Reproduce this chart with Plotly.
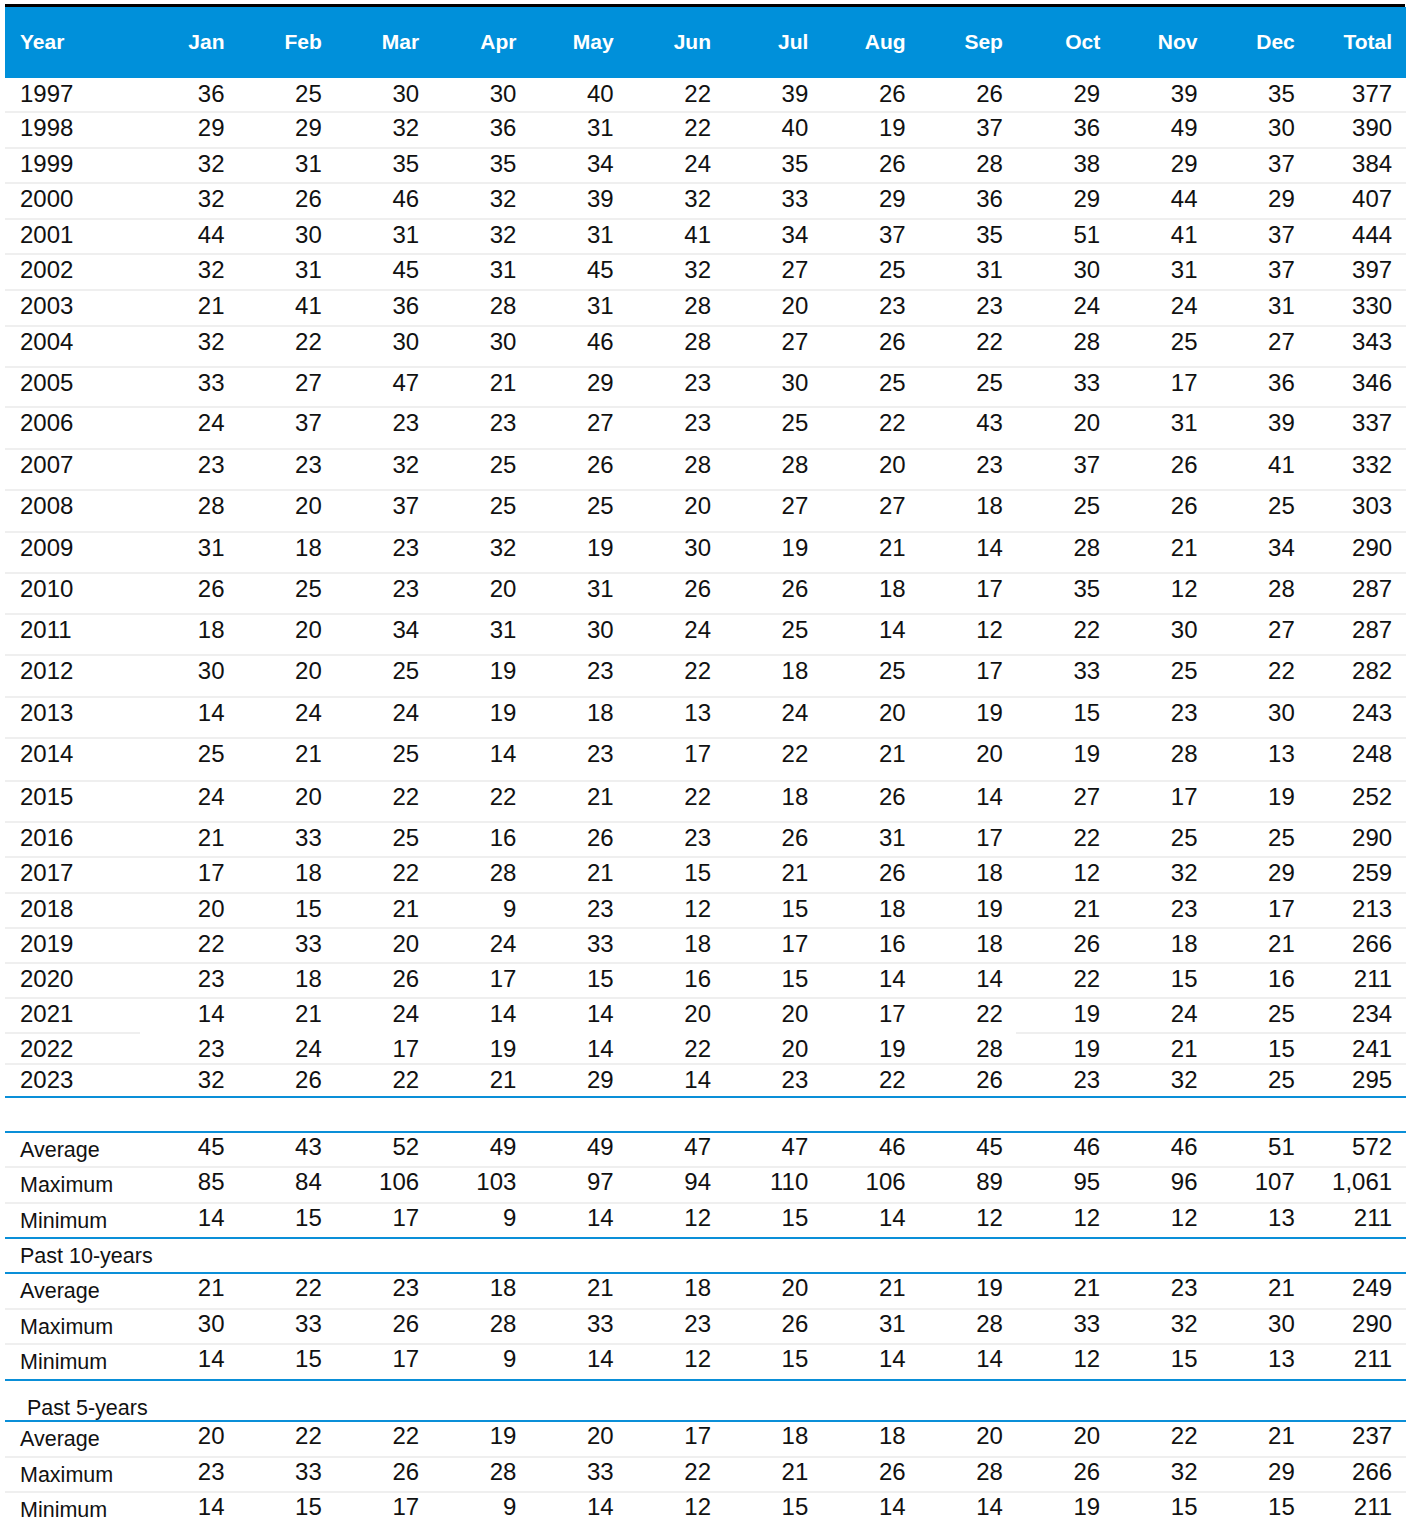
import plotly.graph_objects as go

# ---------------- data ----------------
header_labels = ["Year", "Jan", "Feb", "Mar", "Apr", "May", "Jun",
                 "Jul", "Aug", "Sep", "Oct", "Nov", "Dec", "Total"]
years = [str(y) for y in range(1997, 2024)]

jan = [36, 29, 32, 32, 44, 32, 21, 32, 33, 24, 23, 28, 31, 26, 18, 30, 14, 25, 24, 21, 17, 20, 22, 23, 14, 23, 32]
feb = [25, 29, 31, 26, 30, 31, 41, 22, 27, 37, 23, 20, 18, 25, 20, 20, 24, 21, 20, 33, 18, 15, 33, 18, 21, 24, 26]
mar = [30, 32, 35, 46, 31, 45, 36, 30, 47, 23, 32, 37, 23, 23, 34, 25, 24, 25, 22, 25, 22, 21, 20, 26, 24, 17, 22]
apr = [30, 36, 35, 32, 32, 31, 28, 30, 21, 23, 25, 25, 32, 20, 31, 19, 19, 14, 22, 16, 28, 9, 24, 17, 14, 19, 21]
may = [40, 31, 34, 39, 31, 45, 31, 46, 29, 27, 26, 25, 19, 31, 30, 23, 18, 23, 21, 26, 21, 23, 33, 15, 14, 14, 29]
jun = [22, 22, 24, 32, 41, 32, 28, 28, 23, 23, 28, 20, 30, 26, 24, 22, 13, 17, 22, 23, 15, 12, 18, 16, 20, 22, 14]
jul = [39, 40, 35, 33, 34, 27, 20, 27, 30, 25, 28, 27, 19, 26, 25, 18, 24, 22, 18, 26, 21, 15, 17, 15, 20, 20, 23]
aug = [26, 19, 26, 29, 37, 25, 23, 26, 25, 22, 20, 27, 21, 18, 14, 25, 20, 21, 26, 31, 26, 18, 16, 14, 17, 19, 22]
sep = [26, 37, 28, 36, 35, 31, 23, 22, 25, 43, 23, 18, 14, 17, 12, 17, 19, 20, 14, 17, 18, 19, 18, 14, 22, 28, 26]
oct_ = [29, 36, 38, 29, 51, 30, 24, 28, 33, 20, 37, 25, 28, 35, 22, 33, 15, 19, 27, 22, 12, 21, 26, 22, 19, 19, 23]
nov = [39, 49, 29, 44, 41, 31, 24, 25, 17, 31, 26, 26, 21, 12, 30, 25, 23, 28, 17, 25, 32, 23, 18, 15, 24, 21, 32]
dec = [35, 30, 37, 29, 37, 37, 31, 27, 36, 39, 41, 25, 34, 28, 27, 22, 30, 13, 19, 25, 29, 17, 21, 16, 25, 15, 25]
total = [377, 390, 384, 407, 444, 397, 330, 343, 346, 337, 332, 303, 290, 287, 287, 282, 243, 248, 252, 290,
         259, 213, 266, 211, 234, 241, 295]

all_avg = [45, 43, 52, 49, 49, 47, 47, 46, 45, 46, 46, 51, 572]
all_max = [85, 84, 106, 103, 97, 94, 110, 106, 89, 95, 96, 107, 1061]
all_min = [14, 15, 17, 9, 14, 12, 15, 14, 12, 12, 12, 13, 211]
p10_avg = [21, 22, 23, 18, 21, 18, 20, 21, 19, 21, 23, 21, 249]
p10_max = [30, 33, 26, 28, 33, 23, 26, 31, 28, 33, 32, 30, 290]
p10_min = [14, 15, 17, 9, 14, 12, 15, 14, 14, 12, 15, 13, 211]
p5_avg = [20, 22, 22, 19, 20, 17, 18, 18, 20, 20, 22, 21, 237]
p5_max = [23, 33, 26, 28, 33, 22, 21, 26, 28, 26, 32, 29, 266]
p5_min = [14, 15, 17, 9, 14, 12, 15, 14, 14, 19, 15, 15, 211]

stat_labels = ["Average", "Maximum", "Minimum"]
section_labels = ["Past 10-years", "Past 5-years"]

# ---------------- layout / style ----------------
W, H = 1415, 1522
LEFT, RIGHT = 5, 1406
FONT = "Liberation Sans, Arial, Helvetica, sans-serif"
BLUE = "#0A8FD8"
HEADER_BLUE = "#0090DA"
GRID = "#EFEFEF"
TXT = "#111111"
NUM_SIZE = 24
LBL_SIZE = 21.5
HDR_SIZE = 21

# right anchors of the 13 numeric columns, left anchor of label column
col_right = [224.5 + 97.3 * i for i in range(13)]
label_x = 20

# row boundaries (pixel units on the y axis) for the yearly rows
row_edges = [78, 112, 148, 183, 219, 254, 290, 326, 367, 407, 449, 490, 532, 573, 614, 655,
             697, 738, 781, 822, 857, 893, 928, 963, 998, 1033, 1064, 1097]
TEXT_OFF = 18
HEADER_Y = 44

# summary blocks: top edges of stat rows
block_tops = [[1132, 1167, 1203], [1273, 1309, 1344], [1421, 1457, 1492]]
section_y = [1258, 1410]
section_x = [20, 27]

month_cols = [jan, feb, mar, apr, may, jun, jul, aug, sep, oct_, nov, dec, total]
stat_rows = [[all_avg, all_max, all_min], [p10_avg, p10_max, p10_min], [p5_avg, p5_max, p5_min]]


def fmt(v):
    return f"{v:,}"


fig = go.Figure()

year_y = [row_edges[i] + TEXT_OFF for i in range(len(years))]
stat_y = [t + TEXT_OFF - 1 for blk in block_tops for t in blk]

# numeric columns
for c, col in enumerate(month_cols):
    ys = year_y + stat_y
    texts = [fmt(v) for v in col] + [fmt(r[c]) for blk in stat_rows for r in blk]
    fig.add_trace(go.Scatter(
        x=[col_right[c]] * len(ys), y=ys, text=texts, mode="text",
        textposition="middle left", textfont=dict(family=FONT, size=NUM_SIZE, color=TXT),
        hoverinfo="skip", showlegend=False))

# year labels
fig.add_trace(go.Scatter(
    x=[label_x] * len(years), y=year_y, text=years, mode="text",
    textposition="middle right", textfont=dict(family=FONT, size=NUM_SIZE, color=TXT),
    hoverinfo="skip", showlegend=False))

# stat labels
lbl_y = [y + 3 for y in stat_y]
lbl_t = stat_labels * 3
fig.add_trace(go.Scatter(
    x=[label_x] * len(lbl_y), y=lbl_y, text=lbl_t, mode="text",
    textposition="middle right", textfont=dict(family=FONT, size=LBL_SIZE, color=TXT),
    hoverinfo="skip", showlegend=False))

# section labels
fig.add_trace(go.Scatter(
    x=section_x, y=section_y, text=section_labels, mode="text",
    textposition="middle right", textfont=dict(family=FONT, size=LBL_SIZE, color=TXT),
    hoverinfo="skip", showlegend=False))

# header labels
hdr_x = [label_x] + col_right
fig.add_trace(go.Scatter(
    x=hdr_x[:1], y=[HEADER_Y], text=header_labels[:1], mode="text",
    textposition="middle right", textfont=dict(family=FONT, size=HDR_SIZE, color="white", weight="bold"),
    hoverinfo="skip", showlegend=False))
fig.add_trace(go.Scatter(
    x=hdr_x[1:], y=[HEADER_Y] * 13, text=header_labels[1:], mode="text",
    textposition="middle left", textfont=dict(family=FONT, size=HDR_SIZE, color="white", weight="bold"),
    hoverinfo="skip", showlegend=False))

shapes = []
# header band and top black rule
shapes.append(dict(type="rect", xref="x", yref="y", x0=LEFT, x1=RIGHT, y0=7, y1=78,
                   fillcolor=HEADER_BLUE, line=dict(width=0), layer="below"))
shapes.append(dict(type="line", xref="x", yref="y", x0=LEFT, x1=RIGHT - 1, y0=5.5, y1=5.5,
                   line=dict(color="black", width=3)))


def hline(y, color, width=2, x0=LEFT, x1=RIGHT):
    shapes.append(dict(type="line", xref="x", yref="y", x0=x0, x1=x1, y0=y, y1=y,
                       line=dict(color=color, width=width), layer="below"))


# yearly grid lines
for e in row_edges[1:-1]:
    if e == 1033:
        hline(e, GRID, x0=LEFT, x1=140)
        hline(e, GRID, x0=1016, x1=RIGHT)
    else:
        hline(e, GRID)
hline(row_edges[-1], BLUE)

# summary lines
for blk in block_tops:
    hline(blk[0], BLUE)
    hline(blk[1], GRID)
    hline(blk[2], GRID)
hline(1238, BLUE)
hline(1380, BLUE)

fig.update_layout(
    width=W, height=H, margin=dict(l=0, r=0, t=0, b=0),
    paper_bgcolor="white", plot_bgcolor="white",
    xaxis=dict(range=[0, W], visible=False, fixedrange=True),
    yaxis=dict(range=[H, 0], visible=False, fixedrange=True),
    shapes=shapes,
)

fig.write_html("out.html", config={"displayModeBar": False, "staticPlot": True},
               post_script="document.body.style.margin='0';document.body.style.overflow='hidden';")
